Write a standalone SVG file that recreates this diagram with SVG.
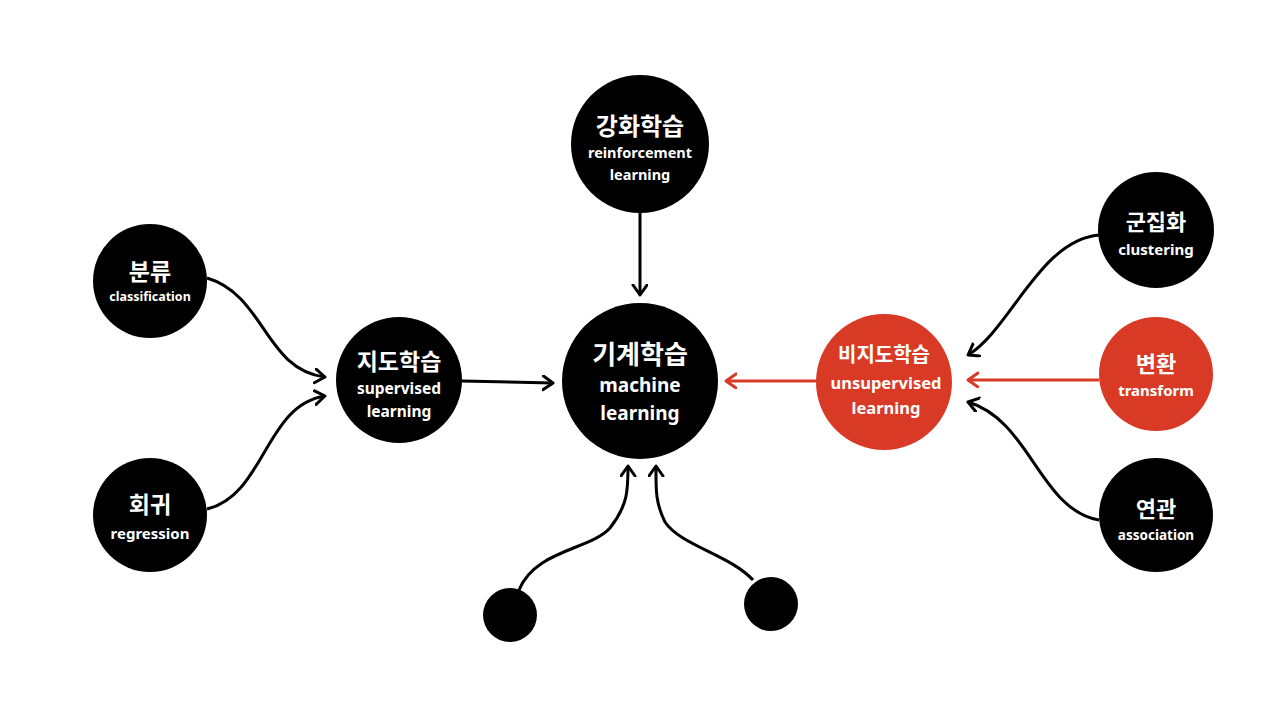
<svg xmlns="http://www.w3.org/2000/svg" width="1280" height="720" viewBox="0 0 1280 720">
<style>
.k{font-family:"Noto Sans CJK KR","Noto Sans",sans-serif;font-weight:700;fill:#fff;text-anchor:middle}
.e{font-family:"Noto Sans","Noto Sans CJK KR",sans-serif;font-weight:700;fill:#fff;text-anchor:middle}
.blk{fill:#000}
.red{fill:#d93a26}
.c{fill:none;stroke:#000;stroke-width:3}
.cr{fill:none;stroke:#d93a26;stroke-width:3}
</style>
<defs>
<marker id="a" markerUnits="userSpaceOnUse" markerWidth="20" markerHeight="20" refX="11" refY="8" orient="auto" viewBox="0 0 20 20">
<path d="M1,1 L11,8 L1,15" fill="none" stroke="#000" stroke-width="3" stroke-linecap="round" stroke-linejoin="round"/>
</marker>
<marker id="ar" markerUnits="userSpaceOnUse" markerWidth="20" markerHeight="20" refX="11" refY="8" orient="auto" viewBox="0 0 20 20">
<path d="M1,1 L11,8 L1,15" fill="none" stroke="#d93a26" stroke-width="3" stroke-linecap="round" stroke-linejoin="round"/>
</marker>
</defs>
<rect width="1280" height="720" fill="#fff"/>
<g id="connectors">
<path class="c" d="M640,212 L640,295" marker-end="url(#a)"/>
<path class="c" d="M462,381 L553,383" marker-end="url(#a)"/>
<path class="cr" d="M817,381 L726,381" marker-end="url(#ar)"/>
<path class="cr" d="M1099,380 L968,380" marker-end="url(#ar)"/>
<path class="c" d="M207,278 C265,295 265,370 325,377" marker-end="url(#a)"/>
<path class="c" d="M207,509 C265,495 265,405 325,396" marker-end="url(#a)"/>
<path class="c" d="M1099,235 C1040,240 1010,330 968,355" marker-end="url(#a)"/>
<path class="c" d="M1099,520 C1040,510 1030,420 968,402" marker-end="url(#a)"/>
<path class="c" d="M519,590 C535,550 590,550 610,528 C628,505 628,490 628,466" marker-end="url(#a)"/>
<path class="c" d="M753,580 C730,555 680,545 665,522 C655,502 656,488 656,466" marker-end="url(#a)"/>
</g>
<g id="ml">
<circle class="blk" cx="640" cy="381" r="78"/>
<text class="k" x="640" y="364" font-size="26">기계학습</text>
<text class="e" x="640" y="392" font-size="19">machine</text>
<text class="e" x="640" y="420" font-size="19">learning</text>
</g>
<g id="rl">
<circle class="blk" cx="640" cy="144" r="69"/>
<text class="k" x="640" y="135" font-size="24">강화학습</text>
<text class="e" x="640" y="158" font-size="14.5">reinforcement</text>
<text class="e" x="640" y="180" font-size="14.5">learning</text>
</g>
<g id="sl">
<circle class="blk" cx="399" cy="380" r="63"/>
<text class="k" x="399" y="370" font-size="23">지도학습</text>
<text class="e" x="399" y="394" font-size="15.5">supervised</text>
<text class="e" x="399" y="417" font-size="15.5">learning</text>
</g>
<g id="cls">
<circle class="blk" cx="150" cy="281" r="57"/>
<text class="k" x="150" y="280" font-size="23">분류</text>
<text class="e" x="150" y="301" font-size="12.5">classification</text>
</g>
<g id="reg">
<circle class="blk" cx="150" cy="515" r="57"/>
<text class="k" x="150" y="513" font-size="23">회귀</text>
<text class="e" x="150" y="539" font-size="15">regression</text>
</g>
<g id="ul">
<circle class="red" cx="884" cy="382" r="68"/>
<text class="k" x="884" y="362" font-size="20">비지도학습</text>
<text class="e" x="886" y="389" font-size="16.5">unsupervised</text>
<text class="e" x="886" y="414" font-size="16.5">learning</text>
</g>
<g id="tr">
<circle class="red" cx="1156" cy="374" r="57"/>
<text class="k" x="1156" y="372" font-size="22">변환</text>
<text class="e" x="1156" y="396" font-size="15">transform</text>
</g>
<g id="clu">
<circle class="blk" cx="1156" cy="230" r="58"/>
<text class="k" x="1156" y="230" font-size="22">군집화</text>
<text class="e" x="1156" y="255" font-size="15">clustering</text>
</g>
<g id="asc">
<circle class="blk" cx="1156" cy="515" r="57"/>
<text class="k" x="1156" y="517" font-size="22">연관</text>
<text class="e" x="1156" y="540" font-size="13.5">association</text>
</g>
<g id="s1"><circle class="blk" cx="510" cy="615" r="27"/></g>
<g id="s2"><circle class="blk" cx="771" cy="604" r="27"/></g>
</svg>
